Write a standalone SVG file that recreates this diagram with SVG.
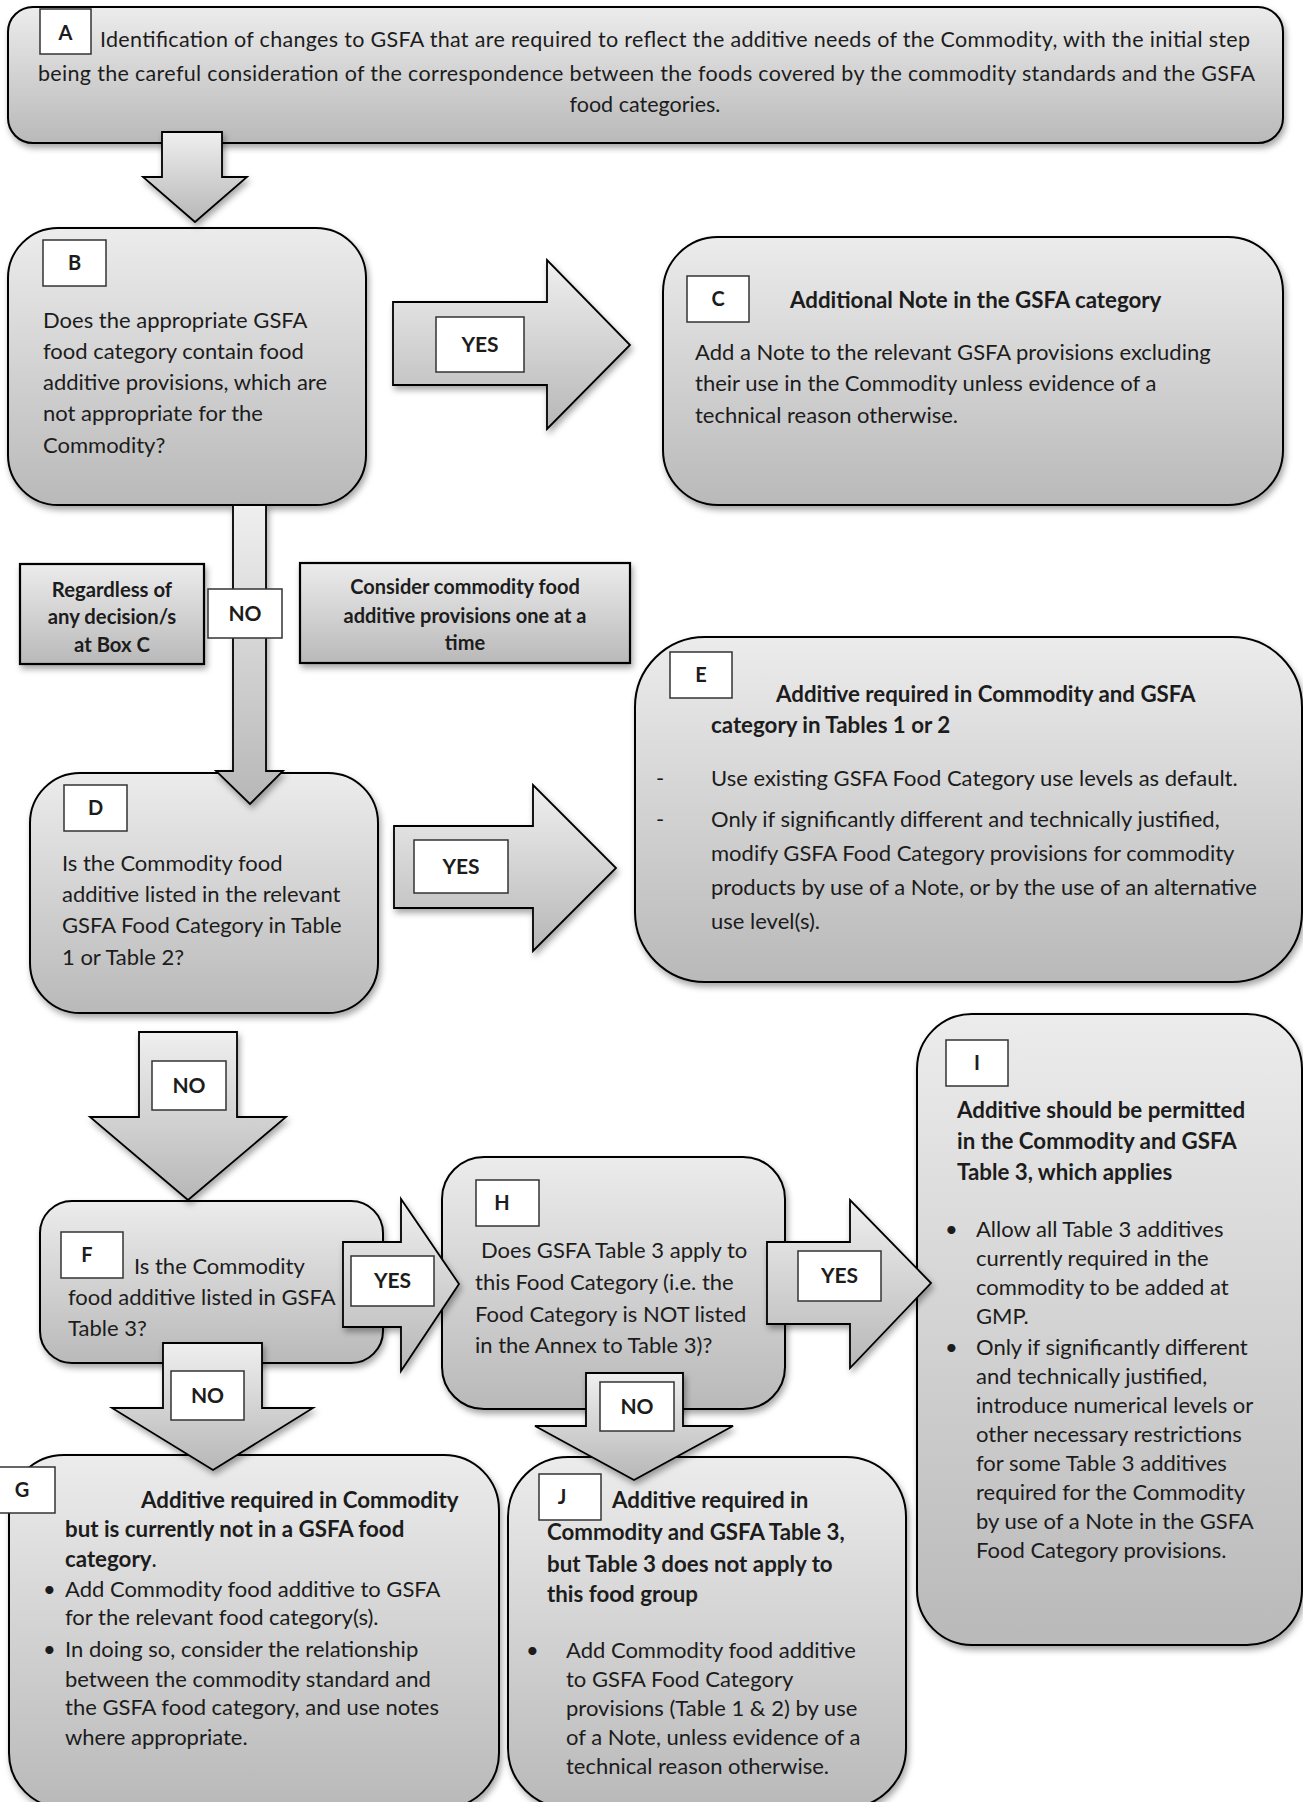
<svg xmlns="http://www.w3.org/2000/svg" width="1303" height="1802" viewBox="0 0 1303 1802">
<defs>
<linearGradient id="g" x1="0" y1="0" x2="0" y2="1"><stop offset="0" stop-color="#ececec"/><stop offset="1" stop-color="#b9b9b9"/></linearGradient>
<linearGradient id="ga" x1="0" y1="0" x2="0" y2="1"><stop offset="0" stop-color="#efefef"/><stop offset="1" stop-color="#b7b7b7"/></linearGradient>
<filter id="sh" x="-10%" y="-10%" width="125%" height="130%"><feDropShadow dx="2" dy="4" stdDeviation="3" flood-color="#000" flood-opacity="0.35"/></filter>
<style>
.box{fill:url(#g);stroke:#000;stroke-width:2;filter:url(#sh)}
.rect{fill:url(#g);stroke:#000;stroke-width:2.2;filter:url(#sh)}
.lbl{fill:#fff;stroke:#333;stroke-width:1.5}
.arr{fill:url(#ga);stroke:#000;stroke-width:1.8;filter:url(#sh)}
text{font-family:Lato,"Open Sans","Liberation Sans",sans-serif;fill:#1c1c1c}
.t{font-size:22px}
.ta{font-size:21.5px}
.b{font-weight:bold}
.h{font-size:22.3px;font-weight:bold}
.k{font-size:20px;font-weight:bold;text-anchor:middle}
.m{text-anchor:middle}
.yn{font-size:21px;font-weight:bold;text-anchor:middle}
</style>
</defs>

<g id="nodeA">
<rect class="box" x="8" y="7" width="1275" height="136" rx="25"/>
<rect class="lbl" x="40" y="9" width="51" height="45"/>
<text class="k" x="65.5" y="40">A</text>
<text class="ta" x="100" y="47" textLength="1150">Identification of changes to GSFA that are required to reflect the additive needs of the Commodity, with the initial step</text>
<text class="ta" x="38" y="81" textLength="1217">being the careful consideration of the correspondence between the foods covered by the commodity standards and the GSFA</text>
<text class="ta m" x="645" y="112">food categories.</text>
</g>

<g id="nodeB">
<rect class="box" x="8" y="228" width="358" height="277" rx="50"/>
<rect class="lbl" x="43" y="240" width="63" height="46"/>
<text class="k" x="74.5" y="270">B</text>
<text class="t" x="43" y="328">Does the appropriate GSFA</text>
<text class="t" x="43" y="359">food category contain food</text>
<text class="t" x="43" y="390">additive provisions, which are</text>
<text class="t" x="43" y="421">not appropriate for the</text>
<text class="t" x="43" y="453">Commodity?</text>
</g>

<g id="nodeC">
<rect class="box" x="663" y="237" width="620" height="268" rx="55"/>
<rect class="lbl" x="687" y="276" width="62" height="46"/>
<text class="k" x="718" y="306">C</text>
<text class="h" x="790" y="308">Additional Note in the GSFA category</text>
<text class="t" x="695" y="360">Add a Note to the relevant GSFA provisions excluding</text>
<text class="t" x="695" y="391">their use in the Commodity unless evidence of a</text>
<text class="t" x="695" y="423">technical reason otherwise.</text>
</g>

<g id="noteRegardless">
<rect class="rect" x="20" y="564" width="184" height="100"/>
<text class="h m" x="112" y="597" style="font-size:20.3px">Regardless of</text>
<text class="h m" x="112" y="624" style="font-size:20.3px">any decision/s</text>
<text class="h m" x="112" y="652" style="font-size:20.3px">at Box C</text>
</g>

<g id="noteConsider">
<rect class="rect" x="300" y="563" width="330" height="100"/>
<text class="h m" x="465" y="594" style="font-size:20px">Consider commodity food</text>
<text class="h m" x="465" y="623" style="font-size:20px">additive provisions one at a</text>
<text class="h m" x="465" y="650" style="font-size:20px">time</text>
</g>

<g id="nodeD">
<rect class="box" x="30" y="773" width="348" height="240" rx="50"/>
<rect class="lbl" x="64" y="785" width="63" height="46"/>
<text class="k" x="95.5" y="815">D</text>
<text class="t" x="62" y="871">Is the Commodity food</text>
<text class="t" x="62" y="902">additive listed in the relevant</text>
<text class="t" x="62" y="933">GSFA Food Category in Table</text>
<text class="t" x="62" y="965">1 or Table 2?</text>
</g>

<g id="nodeE">
<rect class="box" x="635" y="637" width="667" height="345" rx="70"/>
<rect class="lbl" x="670" y="652" width="62" height="46"/>
<text class="k" x="701" y="682">E</text>
<text class="h" x="776" y="702">Additive required in Commodity and GSFA</text>
<text class="h" x="711" y="733">category in Tables 1 or 2</text>
<text class="t" x="656" y="786">-</text>
<text class="t" x="711" y="786">Use existing GSFA Food Category use levels as default.</text>
<text class="t" x="656" y="827">-</text>
<text class="t" x="711" y="827">Only if significantly different and technically justified,</text>
<text class="t" x="711" y="861">modify GSFA Food Category provisions for commodity</text>
<text class="t" x="711" y="895">products by use of a Note, or by the use of an alternative</text>
<text class="t" x="711" y="929">use level(s).</text>
</g>

<g id="nodeF">
<rect class="box" x="40" y="1201" width="343" height="162" rx="32"/>
<rect class="lbl" x="61" y="1232" width="62" height="46"/>
<text class="k" x="87" y="1262">F</text>
<text class="t" x="134" y="1274">Is the Commodity</text>
<text class="t" x="68" y="1305">food additive listed in GSFA</text>
<text class="t" x="68" y="1336">Table 3?</text>
</g>

<g id="nodeH">
<rect class="box" x="442" y="1157" width="343" height="252" rx="42"/>
<rect class="lbl" x="476" y="1180" width="63" height="46"/>
<text class="k" x="502" y="1210">H</text>
<text class="t" x="481" y="1258">Does GSFA Table 3 apply to</text>
<text class="t" x="475" y="1290">this Food Category (i.e. the</text>
<text class="t" x="475" y="1322">Food Category is NOT listed</text>
<text class="t" x="475" y="1353">in the Annex to Table 3)?</text>
</g>

<g id="nodeI">
<rect class="box" x="917" y="1014" width="385" height="631" rx="55"/>
<rect class="lbl" x="946" y="1040" width="62" height="46"/>
<text class="k" x="977" y="1070">I</text>
<text class="h" x="957" y="1118">Additive should be permitted</text>
<text class="h" x="957" y="1149">in the Commodity and GSFA</text>
<text class="h" x="957" y="1180">Table 3, which applies</text>
<text class="t" x="945" y="1237">•</text>
<text class="t" x="976" y="1237">Allow all Table 3 additives</text>
<text class="t" x="976" y="1266">currently required in the</text>
<text class="t" x="976" y="1295">commodity to be added at</text>
<text class="t" x="976" y="1324">GMP.</text>
<text class="t" x="945" y="1355">•</text>
<text class="t" x="976" y="1355">Only if significantly different</text>
<text class="t" x="976" y="1384">and technically justified,</text>
<text class="t" x="976" y="1413">introduce numerical levels or</text>
<text class="t" x="976" y="1442">other necessary restrictions</text>
<text class="t" x="976" y="1471">for some Table 3 additives</text>
<text class="t" x="976" y="1500">required for the Commodity</text>
<text class="t" x="976" y="1529">by use of a Note in the GSFA</text>
<text class="t" x="976" y="1558">Food Category provisions.</text>
</g>

<g id="nodeG">
<rect class="box" x="9" y="1455" width="490" height="353" rx="55"/>
<rect class="lbl" x="-2" y="1467" width="57" height="46"/>
<text class="k" x="22" y="1497">G</text>
<text class="h" x="141" y="1508">Additive required in Commodity</text>
<text class="h" x="65" y="1537">but is currently not in a GSFA food</text>
<text class="h" x="65" y="1567">category<tspan style="font-weight:normal">.</tspan></text>
<text class="t" x="43" y="1597">•</text>
<text class="t" x="65" y="1597">Add Commodity food additive to GSFA</text>
<text class="t" x="65" y="1625">for the relevant food category(s).</text>
<text class="t" x="43" y="1657">•</text>
<text class="t" x="65" y="1657">In doing so, consider the relationship</text>
<text class="t" x="65" y="1687">between the commodity standard and</text>
<text class="t" x="65" y="1715">the GSFA food category, and use notes</text>
<text class="t" x="65" y="1745">where appropriate.</text>
</g>

<g id="nodeJ">
<rect class="box" x="508" y="1457" width="398" height="351" rx="60"/>
<rect class="lbl" x="539" y="1474" width="62" height="46"/>
<text class="k" x="562" y="1504">J</text>
<text class="h" x="612" y="1508">Additive required in</text>
<text class="h" x="547" y="1540">Commodity and GSFA Table 3,</text>
<text class="h" x="547" y="1572">but Table 3 does not apply to</text>
<text class="h" x="547" y="1602">this food group</text>
<text class="t" x="526" y="1658">•</text>
<text class="t" x="566" y="1658">Add Commodity food additive</text>
<text class="t" x="566" y="1687">to GSFA Food Category</text>
<text class="t" x="566" y="1716">provisions (Table 1 &amp; 2) by use</text>
<text class="t" x="566" y="1745">of a Note, unless evidence of a</text>
<text class="t" x="566" y="1774">technical reason otherwise.</text>
</g>

<g id="connectors">
<polygon class="arr" points="162,132 222,132 222,177 247,177 195,222 143,177 162,177"/>
<polygon class="arr" points="393,302 547,302 547,260 630,345 547,429 547,385 393,385"/>
<rect class="lbl" x="436" y="317" width="88" height="55"/>
<text class="yn" x="480" y="352">YES</text>
<polygon class="arr" points="233,505 266,505 266,771 283,771 250,804 216,771 233,771"/>
<rect class="lbl" x="208" y="589" width="74" height="49"/>
<text class="yn" x="245" y="621">NO</text>
<polygon class="arr" points="394,826 533,826 533,785 616,868 533,951 533,908 394,908"/>
<rect class="lbl" x="414" y="840" width="94" height="53"/>
<text class="yn" x="461" y="874">YES</text>
<polygon class="arr" points="139,1032 237,1032 237,1117 286,1117 188,1200 90,1117 139,1117"/>
<rect class="lbl" x="152" y="1061" width="74" height="49"/>
<text class="yn" x="189" y="1093">NO</text>
<polygon class="arr" points="343,1242 401,1242 401,1199 459,1284 401,1371 401,1327 343,1327"/>
<rect class="lbl" x="351" y="1256" width="83" height="50"/>
<text class="yn" x="392.5" y="1288">YES</text>
<polygon class="arr" points="767,1242 850,1242 850,1200 931,1283 850,1368 850,1324 767,1324"/>
<rect class="lbl" x="798" y="1251" width="83" height="50"/>
<text class="yn" x="839.5" y="1283">YES</text>
<polygon class="arr" points="163,1343 262,1343 262,1408 313,1408 213,1470 112,1408 163,1408"/>
<rect class="lbl" x="171" y="1371" width="73" height="49"/>
<text class="yn" x="207.5" y="1403">NO</text>
<polygon class="arr" points="586,1373 683,1373 683,1426 733,1426 634,1480 535,1426 586,1426"/>
<rect class="lbl" x="600" y="1382" width="74" height="49"/>
<text class="yn" x="637" y="1414">NO</text>
</g>
</svg>
